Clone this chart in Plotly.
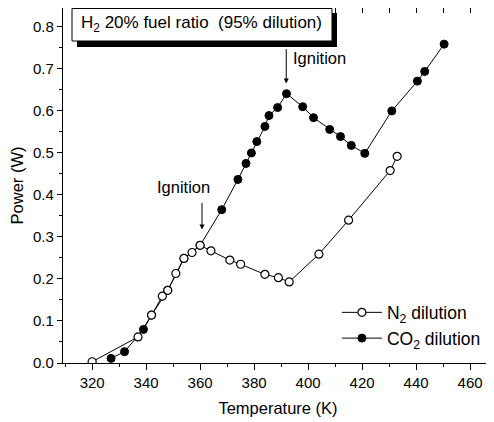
import plotly.graph_objects as go

# N2 dilution (open circles)
n2_temp = [320, 337, 342, 346, 348, 351, 354, 357, 360, 364, 371, 375, 384, 389, 393, 404, 415, 430.4, 433]
n2_power = [0.003, 0.062, 0.114, 0.159, 0.173, 0.213, 0.249, 0.263, 0.280, 0.267, 0.245, 0.235, 0.211, 0.203, 0.193, 0.259, 0.340, 0.458, 0.492]

# CO2 dilution (filled circles)
co2_temp = [327, 332, 339, 342, 348, 354, 360, 368, 374, 377, 379, 381, 384, 385.5, 388.7, 392, 398, 402, 408, 412, 416, 421, 431, 440.5, 443.2, 450.4]
co2_power = [0.011, 0.027, 0.080, 0.114, 0.173, 0.249, 0.280, 0.365, 0.437, 0.475, 0.500, 0.527, 0.563, 0.589, 0.608, 0.641, 0.610, 0.584, 0.556, 0.539, 0.518, 0.499, 0.600, 0.671, 0.694, 0.759]

x_ticks = [320, 340, 360, 380, 400, 420, 440, 460]
y_ticks = [0.0, 0.1, 0.2, 0.3, 0.4, 0.5, 0.6, 0.7, 0.8]

X_RANGE = [309.2, 468.5]
Y_RANGE = [0.0, 0.845]
FONT = "Liberation Sans, Arial, sans-serif"

# page body has an 8px default margin, so the figure is sized to fit the window
PAGE_OFF = 8
FIG_W, FIG_H = 494 - PAGE_OFF, 422 - PAGE_OFF
PLOT_L, PLOT_R, PLOT_T, PLOT_B = 63, 493, 8, 363  # window pixels

fig = go.Figure()
fig.add_trace(go.Scatter(
    x=co2_temp, y=co2_power, mode="lines+markers", name="CO<sub>2</sub> dilution",
    line=dict(color="black", width=1),
    marker=dict(symbol="circle", size=8, color="black", line=dict(color="black", width=1)),
))
fig.add_trace(go.Scatter(
    x=n2_temp, y=n2_power, mode="lines+markers", name="N<sub>2</sub> dilution",
    line=dict(color="black", width=1),
    marker=dict(symbol="circle", size=8, color="white", line=dict(color="black", width=1.2)),
))
# helper trace for the mirrored inside ticks (top/right)
fig.add_trace(go.Scatter(x=[None], y=[None], xaxis="x2", yaxis="y2", showlegend=False, hoverinfo="skip"))

axis_common = dict(showgrid=False, zeroline=False, linecolor="black", linewidth=1.3, automargin=False,
                   tickcolor="black", tickfont=dict(family=FONT, size=15, color="black"))

fig.update_layout(
    width=FIG_W, height=FIG_H, autosize=False,
    margin=dict(l=PLOT_L - PAGE_OFF, r=FIG_W - (PLOT_R - PAGE_OFF),
                t=PLOT_T - PAGE_OFF, b=FIG_H - (PLOT_B - PAGE_OFF), pad=0),
    paper_bgcolor="white", plot_bgcolor="white",
    font=dict(family=FONT, color="black"),
    xaxis=dict(range=X_RANGE, tickvals=x_ticks, ticktext=[str(v) for v in x_ticks],
               ticks="outside", ticklen=6, tickwidth=1.2, showline=True, mirror=True,
               minor=dict(dtick=10, ticks="outside", ticklen=3, tickcolor="black", tickwidth=1),
               title=dict(text="Temperature (K)", font=dict(family=FONT, size=16.5), standoff=12),
               **axis_common),
    yaxis=dict(range=Y_RANGE, tickvals=y_ticks, ticktext=[f"{v:.1f}" for v in y_ticks],
               ticks="outside", ticklen=5, tickwidth=1.2, showline=True, mirror=True,
               minor=dict(dtick=0.05, ticks="outside", ticklen=3, tickcolor="black", tickwidth=1),
               title=dict(text="Power (W)", font=dict(family=FONT, size=16.5), standoff=8),
               **axis_common),
    xaxis2=dict(range=X_RANGE, overlaying="x", side="top", tickvals=[v for v in range(320, 470, 10)],
                ticks="inside", ticklen=5, tickcolor="black", showticklabels=False, showgrid=False,
                zeroline=False, showline=False, automargin=False),
    yaxis2=dict(range=Y_RANGE, overlaying="y", side="right", tickvals=[round(0.05 * i, 2) for i in range(17)],
                ticks="inside", ticklen=4, tickcolor="black", showticklabels=False, showgrid=False,
                zeroline=False, showline=False, automargin=False),
    legend=dict(x=0.637, y=0.193, xanchor="left", yanchor="top", traceorder="reversed",
                bgcolor="rgba(0,0,0,0)", font=dict(family=FONT, size=17.5), tracegroupgap=0,
                itemwidth=40),
    showlegend=True,
)

# title box with shadow (window pixel -> paper coords)
def px_x(px):
    return (px - PLOT_L) / float(PLOT_R - PLOT_L)

def px_y(py):
    return (PLOT_B - py) / float(PLOT_B - PLOT_T)

fig.add_shape(type="rect", xref="paper", yref="paper", x0=px_x(77), x1=px_x(337), y0=px_y(47), y1=px_y(13),
              fillcolor="black", line=dict(color="black", width=0))
fig.add_shape(type="rect", xref="paper", yref="paper", x0=px_x(72), x1=px_x(332), y0=px_y(41), y1=px_y(8.5),
              fillcolor="white", line=dict(color="black", width=1))
fig.add_annotation(xref="paper", yref="paper", x=px_x(201), y=px_y(24), xanchor="center", yanchor="middle",
                   text="H<sub>2</sub> 20% fuel ratio  (95% dilution)", showarrow=False,
                   font=dict(family=FONT, size=17, color="black"))

# ignition arrows
fig.add_annotation(x=360.7, y=0.318, ax=0, ay=-28, text="", showarrow=True, arrowhead=2,
                   arrowsize=1, arrowwidth=1, arrowcolor="black")
fig.add_annotation(x=353.7, y=0.420, text="Ignition", showarrow=False,
                   font=dict(family=FONT, size=16.5, color="black"))
fig.add_annotation(x=391.9, y=0.665, ax=0, ay=-36, text="", showarrow=True, arrowhead=2,
                   arrowsize=1, arrowwidth=1, arrowcolor="black")
fig.add_annotation(x=404.4, y=0.727, text="Ignition", showarrow=False,
                   font=dict(family=FONT, size=16.5, color="black"))

fig.write_html("out.html")
